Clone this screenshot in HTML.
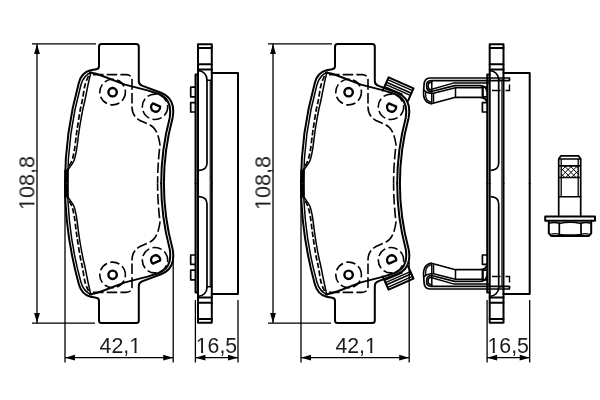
<!DOCTYPE html>
<html><head><meta charset="utf-8">
<style>
html,body{margin:0;padding:0;background:#fff;}
body{width:600px;height:400px;overflow:hidden;position:relative;font-family:"Liberation Sans",sans-serif;}
svg{position:absolute;left:0;top:0;display:block;}
.k{fill:none;stroke:#000;stroke-width:2.0;stroke-linejoin:round;stroke-linecap:round}
.hl{fill:none;stroke:#000;stroke-width:2.3;stroke-linejoin:round}
.k3{fill:none;stroke:#000;stroke-width:1.7;stroke-linejoin:round}
.k2{fill:none;stroke:#000;stroke-width:2.0;stroke-linejoin:round;stroke-linecap:round}
.m{fill:none;stroke:#000;stroke-width:1.5;stroke-linejoin:round;stroke-linecap:round}
.t{fill:none;stroke:#000;stroke-width:1.3}
.h{fill:none;stroke:#000;stroke-width:1.0}
.a{fill:#000;stroke:none}
.d{fill:none;stroke:#000;stroke-width:1.6;stroke-dasharray:10.5 3.2}
.d2{fill:none;stroke:#000;stroke-width:1.6;stroke-dasharray:9.5 3.4}
.d3{fill:none;stroke:#000;stroke-width:1.4;stroke-dasharray:8.5 5 10 4}
text{font-family:"Liberation Sans",sans-serif;font-size:21.3px;fill:#1c1c1c}
</style></head><body>
<svg width="600" height="400" viewBox="0 0 600 400">
<rect width="600" height="400" fill="#fff"/>
<g id="v1"><g>
<!-- outer outline -->
<path class="k" d="M65,183.5 Q65,132.75 78.8,83 Q81.5,72.5 90.5,70.3 L96.3,69.3 Q99,68.9 99,66.3 L99,46.6 Q99,44.1 101.5,44.1 L136.3,44.1 Q138.8,44.1 138.8,46.6 L138.8,81 Q138.8,84.4 142,85.6 L161,92.7 Q170.8,96.5 172.8,106 Q173.9,112 172.6,118 Q163.9,150 163.9,183.5"/>
<!-- 2nd left line -->
<path class="m" d="M67.6,183.5 Q67.6,133 80.9,85 Q83.5,75.3 91.5,72.3"/>
<!-- friction top edge + right inner -->
<path class="k2" d="M90,72.6 Q96,73.6 102.5,76 L125,84.6 L147.5,90.4 L158,93.8 Q167.4,97 169.7,106 Q170.8,112 169.7,118 Q161.2,150 161.2,183.5"/>
<!-- 3rd left solid -->
<path class="m" d="M90.50,73.80 C90.08,75.67 88.92,80.63 88.00,85.00 C87.08,89.37 85.88,95.83 85.00,100.00 C84.12,104.17 83.53,105.83 82.70,110.00 C81.87,114.17 80.70,120.83 80.00,125.00 C79.30,129.17 79.08,130.83 78.50,135.00 C77.92,139.17 77.28,145.67 76.50,150.00 C75.72,154.33 75.22,157.70 73.80,161.00 C72.38,164.30 68.97,168.33 68.00,169.80"/>
<path d="M66.5,169.5 V183.5" fill="none" stroke="#000" stroke-width="4.4"/>
<!-- left dashed -->
<path class="d" style="stroke-width:1.7;stroke-dasharray:5.5 2.4" d="M88.50,76.00 C87.92,77.50 86.02,81.00 85.00,85.00 C83.98,89.00 83.20,95.83 82.40,100.00 C81.60,104.17 80.97,105.83 80.20,110.00 C79.43,114.17 78.45,120.83 77.80,125.00 C77.15,129.17 76.87,130.83 76.30,135.00 C75.73,139.17 75.13,145.75 74.40,150.00 C73.67,154.25 73.05,157.33 71.90,160.50 C70.75,163.67 68.23,167.58 67.50,169.00"/>
<!-- dashed outline -->
<path class="d" d="M93,74.6 L126,74.6 Q132,74.6 132,80.5 L132,107 Q132,116 140,120.5 L150,125 Q158,129 160,145 Q157.6,165 157.6,183.5"/>
<!-- left hole -->
<circle class="hl" cx="112.6" cy="92.2" r="4.2" style="stroke-width:2.4"/>
<circle class="d2" cx="112.6" cy="92.1" r="12.8"/>
<!-- right hole -->
<circle class="d2" cx="155" cy="106.8" r="12.7"/>
<path class="hl" d="M152.9,103.4 L160.2,106.6 A4.6,4.6 0 1 1 152.9,103.4 Z"/>
</g><g transform="translate(0,367) scale(1,-1)">
<!-- outer outline -->
<path class="k" d="M65,183.5 Q65,132.75 78.8,83 Q81.5,72.5 90.5,70.3 L96.3,69.3 Q99,68.9 99,66.3 L99,46.6 Q99,44.1 101.5,44.1 L136.3,44.1 Q138.8,44.1 138.8,46.6 L138.8,81 Q138.8,84.4 142,85.6 L161,92.7 Q170.8,96.5 172.8,106 Q173.9,112 172.6,118 Q163.9,150 163.9,183.5"/>
<!-- 2nd left line -->
<path class="m" d="M67.6,183.5 Q67.6,133 80.9,85 Q83.5,75.3 91.5,72.3"/>
<!-- friction top edge + right inner -->
<path class="k2" d="M90,72.6 Q96,73.6 102.5,76 L125,84.6 L147.5,90.4 L158,93.8 Q167.4,97 169.7,106 Q170.8,112 169.7,118 Q161.2,150 161.2,183.5"/>
<!-- 3rd left solid -->
<path class="m" d="M90.50,73.80 C90.08,75.67 88.92,80.63 88.00,85.00 C87.08,89.37 85.88,95.83 85.00,100.00 C84.12,104.17 83.53,105.83 82.70,110.00 C81.87,114.17 80.70,120.83 80.00,125.00 C79.30,129.17 79.08,130.83 78.50,135.00 C77.92,139.17 77.28,145.67 76.50,150.00 C75.72,154.33 75.22,157.70 73.80,161.00 C72.38,164.30 68.97,168.33 68.00,169.80"/>
<path d="M66.5,169.5 V183.5" fill="none" stroke="#000" stroke-width="4.4"/>
<!-- left dashed -->
<path class="d" style="stroke-width:1.7;stroke-dasharray:5.5 2.4" d="M88.50,76.00 C87.92,77.50 86.02,81.00 85.00,85.00 C83.98,89.00 83.20,95.83 82.40,100.00 C81.60,104.17 80.97,105.83 80.20,110.00 C79.43,114.17 78.45,120.83 77.80,125.00 C77.15,129.17 76.87,130.83 76.30,135.00 C75.73,139.17 75.13,145.75 74.40,150.00 C73.67,154.25 73.05,157.33 71.90,160.50 C70.75,163.67 68.23,167.58 67.50,169.00"/>
<!-- dashed outline -->
<path class="d" d="M93,74.6 L126,74.6 Q132,74.6 132,80.5 L132,107 Q132,116 140,120.5 L150,125 Q158,129 160,145 Q157.6,165 157.6,183.5"/>
<!-- left hole -->
<circle class="hl" cx="112.6" cy="92.2" r="4.2" style="stroke-width:2.4"/>
<circle class="d2" cx="112.6" cy="92.1" r="12.8"/>
<!-- right hole -->
<circle class="d2" cx="155" cy="106.8" r="12.7"/>
<path class="hl" d="M152.9,103.4 L160.2,106.6 A4.6,4.6 0 1 1 152.9,103.4 Z"/>
</g> 
<path class="t" d="M32,43.85 H96 M32,323.1 H95 M37,44 V323 M65,186 V362.6 M173.2,256 V362.6 M65,357.7 H173.2"/>
<path class="a" d="M37,43.9 l-2.9,10 h5.8z M37,323.1 l-2.9,-10 h5.8z M65,357.7 l10,-2.9 v5.8z M173.2,357.7 l-10,-2.9 v5.8z"/>
</g>
<g id="v2"><g>
<path class="k" d="M198,183.5 V44.2 H211.8 V183.5"/>
<path class="k" d="M198,47.9 H211.8 M198,64.3 H211.8 M198,69.5 H211.8"/>
<path class="k" d="M211.8,73.0 H238 V183.5"/>
<path class="k3" d="M198,70.6 A9,9 0 0 1 207,79.6 V163 Q207,170 199,170.3"/>
<path class="m" d="M207,80.3 H211.8"/><path class="t" d="M210.2,80.3 V183.5" style="stroke-width:1.1"/>
<path class="k" d="M198,74.5 H195.6 V183.5" style="stroke-width:2.15"/>
<path class="k3" d="M195.3,87.2 H190.7 V96.8 H195.3 M195.3,102.7 H190.7 V112 H195.3"/>
</g><g transform="translate(0,367) scale(1,-1)">
<path class="k" d="M198,183.5 V44.2 H211.8 V183.5"/>
<path class="k" d="M198,47.9 H211.8 M198,64.3 H211.8 M198,69.5 H211.8"/>
<path class="k" d="M211.8,73.0 H238 V183.5"/>
<path class="k3" d="M198,70.6 A9,9 0 0 1 207,79.6 V163 Q207,170 199,170.3"/>
<path class="m" d="M207,80.3 H211.8"/><path class="t" d="M210.2,80.3 V183.5" style="stroke-width:1.1"/>
<path class="k" d="M198,74.5 H195.6 V183.5" style="stroke-width:2.15"/>
<path class="k3" d="M195.3,87.2 H190.7 V96.8 H195.3 M195.3,102.7 H190.7 V112 H195.3"/>
</g> 
<path class="t" d="M195.4,300 V362.6 M238,300 V362.6 M195.4,357.7 H238"/>
<path class="a" d="M195.4,357.7 l10,-2.9 v5.8z M238,357.7 l-10,-2.9 v5.8z"/>
</g>
<g transform="translate(236,0)"><g>
<!-- outer outline -->
<path class="k" d="M65,183.5 Q65,132.75 78.8,83 Q81.5,72.5 90.5,70.3 L96.3,69.3 Q99,68.9 99,66.3 L99,46.6 Q99,44.1 101.5,44.1 L136.3,44.1 Q138.8,44.1 138.8,46.6 L138.8,81 Q138.8,84.4 142,85.6 L161,92.7 Q170.8,96.5 172.8,106 Q173.9,112 172.6,118 Q163.9,150 163.9,183.5"/>
<!-- 2nd left line -->
<path class="m" d="M67.6,183.5 Q67.6,133 80.9,85 Q83.5,75.3 91.5,72.3"/>
<!-- friction top edge + right inner -->
<path class="k2" d="M90,72.6 Q96,73.6 102.5,76 L125,84.6 L147.5,90.4 L158,93.8 Q167.4,97 169.7,106 Q170.8,112 169.7,118 Q161.2,150 161.2,183.5"/>
<!-- 3rd left solid -->
<path class="m" d="M90.50,73.80 C90.08,75.67 88.92,80.63 88.00,85.00 C87.08,89.37 85.88,95.83 85.00,100.00 C84.12,104.17 83.53,105.83 82.70,110.00 C81.87,114.17 80.70,120.83 80.00,125.00 C79.30,129.17 79.08,130.83 78.50,135.00 C77.92,139.17 77.28,145.67 76.50,150.00 C75.72,154.33 75.22,157.70 73.80,161.00 C72.38,164.30 68.97,168.33 68.00,169.80"/>
<path d="M66.5,169.5 V183.5" fill="none" stroke="#000" stroke-width="4.4"/>
<!-- left dashed -->
<path class="d" style="stroke-width:1.7;stroke-dasharray:5.5 2.4" d="M88.50,76.00 C87.92,77.50 86.02,81.00 85.00,85.00 C83.98,89.00 83.20,95.83 82.40,100.00 C81.60,104.17 80.97,105.83 80.20,110.00 C79.43,114.17 78.45,120.83 77.80,125.00 C77.15,129.17 76.87,130.83 76.30,135.00 C75.73,139.17 75.13,145.75 74.40,150.00 C73.67,154.25 73.05,157.33 71.90,160.50 C70.75,163.67 68.23,167.58 67.50,169.00"/>
<!-- dashed outline -->
<path class="d" d="M93,74.6 L126,74.6 Q132,74.6 132,80.5 L132,107 Q132,116 140,120.5 L150,125 Q158,129 160,145 Q157.6,165 157.6,183.5"/>
<!-- left hole -->
<circle class="hl" cx="112.6" cy="92.2" r="4.2" style="stroke-width:2.4"/>
<circle class="d2" cx="112.6" cy="92.1" r="12.8"/>
<!-- right hole -->
<circle class="d2" cx="155" cy="106.8" r="12.7"/>
<path class="hl" d="M152.9,103.4 L160.2,106.6 A4.6,4.6 0 1 1 152.9,103.4 Z"/>
</g><g transform="translate(0,367) scale(1,-1)">
<!-- outer outline -->
<path class="k" d="M65,183.5 Q65,132.75 78.8,83 Q81.5,72.5 90.5,70.3 L96.3,69.3 Q99,68.9 99,66.3 L99,46.6 Q99,44.1 101.5,44.1 L136.3,44.1 Q138.8,44.1 138.8,46.6 L138.8,81 Q138.8,84.4 142,85.6 L161,92.7 Q170.8,96.5 172.8,106 Q173.9,112 172.6,118 Q163.9,150 163.9,183.5"/>
<!-- 2nd left line -->
<path class="m" d="M67.6,183.5 Q67.6,133 80.9,85 Q83.5,75.3 91.5,72.3"/>
<!-- friction top edge + right inner -->
<path class="k2" d="M90,72.6 Q96,73.6 102.5,76 L125,84.6 L147.5,90.4 L158,93.8 Q167.4,97 169.7,106 Q170.8,112 169.7,118 Q161.2,150 161.2,183.5"/>
<!-- 3rd left solid -->
<path class="m" d="M90.50,73.80 C90.08,75.67 88.92,80.63 88.00,85.00 C87.08,89.37 85.88,95.83 85.00,100.00 C84.12,104.17 83.53,105.83 82.70,110.00 C81.87,114.17 80.70,120.83 80.00,125.00 C79.30,129.17 79.08,130.83 78.50,135.00 C77.92,139.17 77.28,145.67 76.50,150.00 C75.72,154.33 75.22,157.70 73.80,161.00 C72.38,164.30 68.97,168.33 68.00,169.80"/>
<path d="M66.5,169.5 V183.5" fill="none" stroke="#000" stroke-width="4.4"/>
<!-- left dashed -->
<path class="d" style="stroke-width:1.7;stroke-dasharray:5.5 2.4" d="M88.50,76.00 C87.92,77.50 86.02,81.00 85.00,85.00 C83.98,89.00 83.20,95.83 82.40,100.00 C81.60,104.17 80.97,105.83 80.20,110.00 C79.43,114.17 78.45,120.83 77.80,125.00 C77.15,129.17 76.87,130.83 76.30,135.00 C75.73,139.17 75.13,145.75 74.40,150.00 C73.67,154.25 73.05,157.33 71.90,160.50 C70.75,163.67 68.23,167.58 67.50,169.00"/>
<!-- dashed outline -->
<path class="d" d="M93,74.6 L126,74.6 Q132,74.6 132,80.5 L132,107 Q132,116 140,120.5 L150,125 Q158,129 160,145 Q157.6,165 157.6,183.5"/>
<!-- left hole -->
<circle class="hl" cx="112.6" cy="92.2" r="4.2" style="stroke-width:2.4"/>
<circle class="d2" cx="112.6" cy="92.1" r="12.8"/>
<!-- right hole -->
<circle class="d2" cx="155" cy="106.8" r="12.7"/>
<path class="hl" d="M152.9,103.4 L160.2,106.6 A4.6,4.6 0 1 1 152.9,103.4 Z"/>
</g> 
<path class="t" d="M32,43.85 H96 M32,323.1 H95 M37,44 V323 M65,186 V362.6 M173.2,262 V362.6 M65,357.7 H173.2"/>
<path class="a" d="M37,43.9 l-2.9,10 h5.8z M37,323.1 l-2.9,-10 h5.8z M65,357.7 l10,-2.9 v5.8z M173.2,357.7 l-10,-2.9 v5.8z"/>
</g>
<g>
<path class="k" d="M382.7,90.7 L388.6,77.4 L413.5,88.4 L408,100.8"/>
<path class="m" d="M387.6,79.6 L412.5,90.6 M386.5,82.2 L411.4,93.2 M385.5,84.4 L410.4,95.4 M384.6,86.6 L402,94.3"/>
</g><g transform="translate(0,367) scale(1,-1)">
<path class="k" d="M382.7,90.7 L388.6,77.4 L413.5,88.4 L408,100.8"/>
<path class="m" d="M387.6,79.6 L412.5,90.6 M386.5,82.2 L411.4,93.2 M385.5,84.4 L410.4,95.4 M384.6,86.6 L402,94.3"/>
</g>
<g transform="translate(291.7,0)"><g>
<path class="k" d="M198,183.5 V44.2 H211.8 V183.5"/>
<path class="k" d="M198,47.9 H211.8 M198,64.3 H211.8 M198,69.5 H211.8"/>
<path class="k" d="M211.8,73.0 H238 V183.5"/>
<path class="k3" d="M198,70.6 A9,9 0 0 1 207,79.6 V163 Q207,170 199,170.3"/>
<path class="m" d="M207,80.3 H211.8"/><path class="t" d="M210.2,80.3 V183.5" style="stroke-width:1.1"/>
<path class="k" d="M198,74.5 H195.6 V183.5" style="stroke-width:2.15"/>
<path class="k3" d="M195.3,87.2 H190.7 V96.8 H195.3 M195.3,102.7 H190.7 V112 H195.3"/>
</g><g transform="translate(0,367) scale(1,-1)">
<path class="k" d="M198,183.5 V44.2 H211.8 V183.5"/>
<path class="k" d="M198,47.9 H211.8 M198,64.3 H211.8 M198,69.5 H211.8"/>
<path class="k" d="M211.8,73.0 H238 V183.5"/>
<path class="k3" d="M198,70.6 A9,9 0 0 1 207,79.6 V163 Q207,170 199,170.3"/>
<path class="m" d="M207,80.3 H211.8"/><path class="t" d="M210.2,80.3 V183.5" style="stroke-width:1.1"/>
<path class="k" d="M198,74.5 H195.6 V183.5" style="stroke-width:2.15"/>
<path class="k3" d="M195.3,87.2 H190.7 V96.8 H195.3 M195.3,102.7 H190.7 V112 H195.3"/>
</g> 
<path class="t" d="M195.4,300 V362.6 M238,300 V362.6 M195.4,357.7 H238"/>
<path class="a" d="M195.4,357.7 l10,-2.9 v5.8z M238,357.7 l-10,-2.9 v5.8z"/>
</g>
<g>
<!-- outer -->
<path class="k3" d="M509.5,78 H430 Q424,78.2 424,85.2 L423.5,93 Q423.6,97 424.5,98.7 Q426.3,102.8 431.3,103.8 L455.5,97.3 H480 Q486.9,97.5 486.9,103.5"/>
<!-- inner top, loop, L2 -->
<path class="k3" d="M509.5,80.6 H431.3 Q426.6,80.8 426.6,85 L427,88.5 Q427.6,91.3 431.5,91.5 L454.7,85.6 H480 Q486.7,85.8 486.9,92"/>
<!-- loop interior, L1 -->
<path class="m" d="M431.6,82.2 Q428.1,82.4 428.1,85.4 L428.5,88 Q429,89.9 431,89.5 L453.3,83.1 H489"/>
<!-- outer-left to L3 -->
<path class="m" d="M423.7,89.8 Q426,92.9 431,93.3 L433.5,93.25 L455.5,87.75 H483 V97.3"/>
<!-- inner parallel at bottom-left -->
<path class="t" d="M425.6,92 L425.8,96.5 Q426.4,101.2 431.8,102.4"/>
<path class="m" d="M431.8,81 V102.8 M455.5,87.75 V97.3"/>
<path class="t" d="M433.6,93.3 V102.4"/>
<path class="m" d="M509.5,78 V80.6"/>
<path class="d3" d="M492,90.5 H509.5 V79"/>
</g><g transform="translate(0,367) scale(1,-1)">
<!-- outer -->
<path class="k3" d="M509.5,78 H430 Q424,78.2 424,85.2 L423.5,93 Q423.6,97 424.5,98.7 Q426.3,102.8 431.3,103.8 L455.5,97.3 H480 Q486.9,97.5 486.9,103.5"/>
<!-- inner top, loop, L2 -->
<path class="k3" d="M509.5,80.6 H431.3 Q426.6,80.8 426.6,85 L427,88.5 Q427.6,91.3 431.5,91.5 L454.7,85.6 H480 Q486.7,85.8 486.9,92"/>
<!-- loop interior, L1 -->
<path class="m" d="M431.6,82.2 Q428.1,82.4 428.1,85.4 L428.5,88 Q429,89.9 431,89.5 L453.3,83.1 H489"/>
<!-- outer-left to L3 -->
<path class="m" d="M423.7,89.8 Q426,92.9 431,93.3 L433.5,93.25 L455.5,87.75 H483 V97.3"/>
<!-- inner parallel at bottom-left -->
<path class="t" d="M425.6,92 L425.8,96.5 Q426.4,101.2 431.8,102.4"/>
<path class="m" d="M431.8,81 V102.8 M455.5,87.75 V97.3"/>
<path class="t" d="M433.6,93.3 V102.4"/>
<path class="m" d="M509.5,78 V80.6"/>
<path class="d3" d="M492,90.5 H509.5 V79"/>
</g>

<clipPath id="hc"><rect x="561.3" y="165.8" width="16.9" height="11.7"/></clipPath>
<path class="k3" d="M558.7,216 V159 L560.8,155.9 H578.6 L580.7,159 V216"/>
<path class="m" d="M558.7,159 H580.7 M558.7,196.8 H580.7"/>
<path class="k3" d="M558.7,165.8 H580.7 M558.7,177.5 H580.7"/>
<path class="t" d="M561.2,159 V196.8 M578.2,159 V196.8"/>
<path class="h" clip-path="url(#hc)" d="M547.5,165.8 l11.7,11.7 M549.5,165.8 l-11.7,11.7 M553.1,165.8 l11.7,11.7 M555.1,165.8 l-11.7,11.7 M558.7,165.8 l11.7,11.7 M560.7,165.8 l-11.7,11.7 M564.3,165.8 l11.7,11.7 M566.3,165.8 l-11.7,11.7 M569.9,165.8 l11.7,11.7 M571.9,165.8 l-11.7,11.7 M575.5,165.8 l11.7,11.7 M577.5,165.8 l-11.7,11.7 M581.1,165.8 l11.7,11.7 M583.1,165.8 l-11.7,11.7 M586.7,165.8 l11.7,11.7 M588.7,165.8 l-11.7,11.7 M592.3,165.8 l11.7,11.7 M594.3,165.8 l-11.7,11.7"/>
<path class="k" d="M545.2,216.6 H595 V220.8 H545.2 Z"/>
<path class="k" d="M548.8,220.8 V233.2 L551.4,236 H588.6 L591.2,233.2 V220.8"/>
<path class="k3" d="M559.3,222.3 V234.3 M581,222.3 V234.3"/>
<path class="m" d="M548.8,223.4 Q554,221.6 559.3,223.4 Q570,221.2 581,223.4 Q586,221.6 591.2,223.4"/>
<path class="t" d="M551.3,234.2 Q555,233.2 559.3,234.3 Q570,235.6 581,234.3 Q585,233.2 588.7,234.2"/>

<g style="opacity:0.999">
<g transform="translate(120.3,353.2) scale(1,1.045)"><text text-anchor="middle" style="font-size:21.3px">42,1</text><rect x="9.70" y="-2.7" width="4.41" height="3.5" fill="#fff"/><rect x="16.24" y="-2.7" width="4.25" height="3.5" fill="#fff"/></g>
<g transform="translate(356.1,353.2) scale(1,1.045)"><text text-anchor="middle" style="font-size:21.3px">42,1</text><rect x="9.70" y="-2.7" width="4.41" height="3.5" fill="#fff"/><rect x="16.24" y="-2.7" width="4.25" height="3.5" fill="#fff"/></g>
<g transform="translate(216.5,353.2) scale(1,1.045)"><text text-anchor="middle" style="font-size:21.3px">16,5</text><rect x="-19.91" y="-2.7" width="4.41" height="3.5" fill="#fff"/><rect x="-13.37" y="-2.7" width="4.25" height="3.5" fill="#fff"/></g>
<g transform="translate(508.2,353.2) scale(1,1.045)"><text text-anchor="middle" style="font-size:21.3px">16,5</text><rect x="-19.91" y="-2.7" width="4.41" height="3.5" fill="#fff"/><rect x="-13.37" y="-2.7" width="4.25" height="3.5" fill="#fff"/></g>
<g transform="translate(34.3,183) rotate(-90) scale(1,1.045)"><text text-anchor="middle" style="font-size:21.6px">108,8</text><rect x="-26.18" y="-2.7" width="4.47" height="3.5" fill="#fff"/><rect x="-19.57" y="-2.7" width="4.30" height="3.5" fill="#fff"/></g>
<g transform="translate(270.3,183) rotate(-90) scale(1,1.045)"><text text-anchor="middle" style="font-size:21.6px">108,8</text><rect x="-26.18" y="-2.7" width="4.47" height="3.5" fill="#fff"/><rect x="-19.57" y="-2.7" width="4.30" height="3.5" fill="#fff"/></g>
</g>
</svg>
</body></html>
